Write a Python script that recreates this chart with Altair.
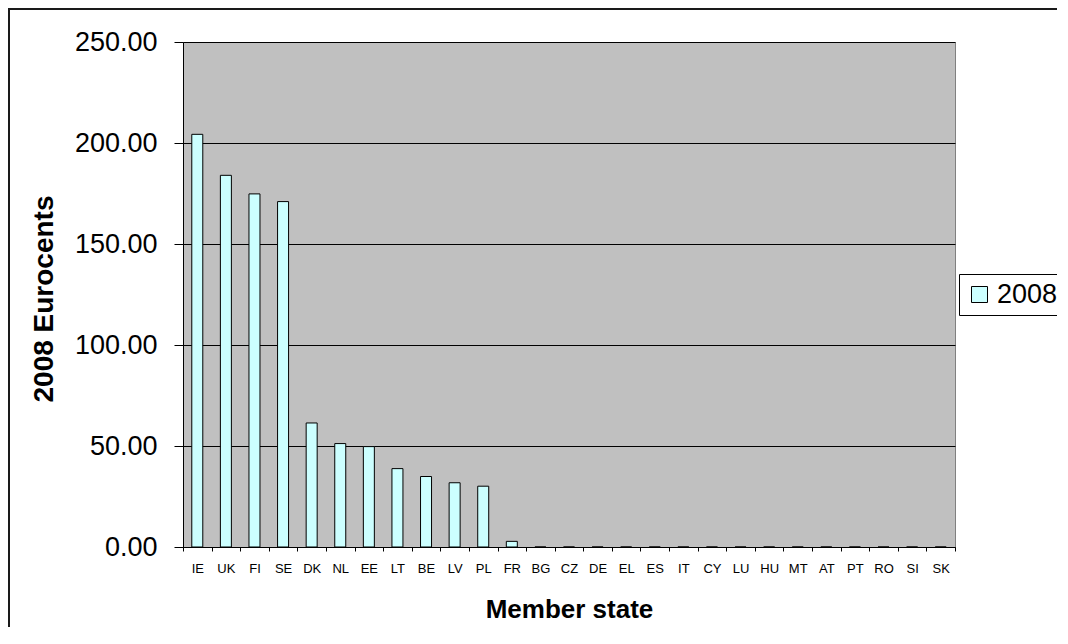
import altair as alt
import pandas as pd

states = ["IE", "UK", "FI", "SE", "DK", "NL", "EE", "LT", "BE", "LV", "PL", "FR", "BG", "CZ",
          "DE", "EL", "ES", "IT", "CY", "LU", "HU", "MT", "AT", "PT", "RO", "SI", "SK"]
values_2008 = [204.3, 184.0, 174.8, 171.0, 61.4, 51.2, 49.7, 38.8, 34.9, 31.8, 30.1, 2.8, 0, 0,
               0, 0, 0, 0, 0, 0, 0, 0, 0, 0, 0, 0, 0]
series = ["2008"] * len(states)
y_ticks = [0, 50, 100, 150, 200, 250]

df = pd.DataFrame({"state": states, "value": values_2008, "series": series})

FONT = "Liberation Sans"
W, H = 772, 505
LX, LY, LH = 776, 232, 41

bars = alt.Chart(df).mark_bar(size=11, stroke="#000000", strokeWidth=1).encode(
    x=alt.X("state:N", sort=states,
            scale=alt.Scale(paddingInner=0, paddingOuter=0),
            axis=alt.Axis(title="Member state", labelAngle=0, labelFontSize=13,
                          labelFont=FONT, labelColor="#000", labelBaseline="alphabetic",
                          tickSize=4, labelPadding=21, tickBand="extent",
                          tickColor="#000", domainColor="#000",
                          titleFont=FONT, titleFontSize=26, titleFontWeight="bold",
                          titleColor="#000", titleBaseline="alphabetic", titleY=70,
                          grid=False)),
    y=alt.Y("value:Q",
            scale=alt.Scale(domain=[0, 250], nice=False),
            axis=alt.Axis(title="2008 Eurocents", values=y_ticks, format=".2f",
                          labelFont=FONT, labelFontSize=27, labelColor="#000",
                          tickSize=9, labelPadding=17, tickColor="#000",
                          domainColor="#000", grid=True, gridColor="#000",
                          gridWidth=1,
                          titleFont=FONT, titleFontSize=28, titleFontWeight="bold",
                          titleColor="#000", titleBaseline="alphabetic",
                          titleX=-131, titleY=H / 2 + 4)),
    color=alt.Color("series:N", scale=alt.Scale(range=["#CCFFFF"]),
                    legend=alt.Legend(title=None, orient="none", legendX=LX, legendY=LY,
                                      padding=7,
                                      symbolType="square", symbolSize=256,
                                      symbolStrokeColor="#000", symbolStrokeWidth=1,
                                      labelFont=FONT, labelFontSize=27, labelColor="#000",
                                      labelOffset=4)),
)

def rule(**enc):
    return alt.Chart(alt.Data(values=[{}])).mark_rule(
        stroke=enc.pop("stroke", "#000000"), strokeWidth=enc.pop("sw", 1)
    ).encode(**{k: alt.value(v) for k, v in enc.items()})

legend_top = rule(x=LX + 0.5, x2=W + 120, y=LY + 0.5)
legend_bottom = rule(x=LX + 0.5, x2=W + 120, y=LY + LH + 0.5)
legend_left = rule(x=LX + 0.5, y=LY + 0.5, y2=LY + LH + 0.5)

border_top = rule(x=-175, x2=W + 120, y=-33, stroke="#1a1a1a", sw=2)
border_left = rule(x=-174, y=-34, y2=H + 100, stroke="#1a1a1a", sw=2)

chart = alt.layer(border_top, border_left, bars, legend_top, legend_bottom, legend_left).properties(
    width=W, height=H,
    autosize=alt.AutoSizeParams(type="none"),
    padding={"left": 175, "top": 34, "right": 102, "bottom": 80},
).configure(background="#FFFFFF").configure_view(fill="#C0C0C0", stroke="#808080", strokeWidth=1)

chart.save("out.html", embed_options={"renderer": "svg", "actions": False})
